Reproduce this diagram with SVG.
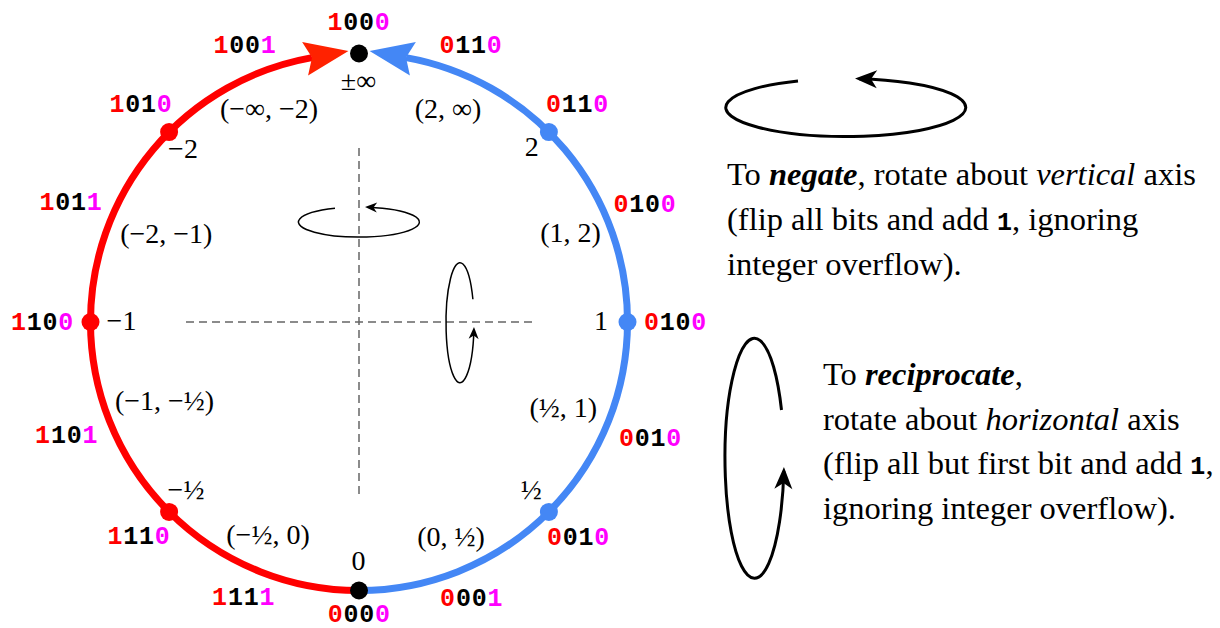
<svg xmlns="http://www.w3.org/2000/svg" width="1220" height="628" viewBox="0 0 1220 628">
<style>
.bits{font-family:"Liberation Mono","DejaVu Sans Mono",monospace;font-weight:bold;font-size:25px;letter-spacing:0.8px;text-anchor:middle;fill:#000}
.r{fill:#ff0000}
.m{fill:#ff00ff}
.lab{font-family:"Liberation Serif","Times New Roman",serif;font-size:28px;text-anchor:middle;fill:#000}
.desc{font-family:"Liberation Serif","Times New Roman",serif;font-size:32.5px;fill:#000}
.bi{font-weight:bold;font-style:italic}
.it{font-style:italic}
.mono{font-family:"Liberation Mono","DejaVu Sans Mono",monospace;font-weight:bold;font-size:25px}
.axis{stroke:#666;stroke-width:1.5;stroke-dasharray:8 5;fill:none}
.rot{fill:none;stroke:#000}
</style>
<defs>
<marker id="arrRed" markerUnits="userSpaceOnUse" viewBox="-10 -20 50 40" refX="0" refY="0" markerWidth="50" markerHeight="40" orient="auto" overflow="visible">
<path d="M37 0 L-7 -17 L0 0 L-7 17 Z" fill="#ff2200"/>
</marker>
<marker id="arrBlue" markerUnits="userSpaceOnUse" viewBox="-10 -20 50 40" refX="0" refY="0" markerWidth="50" markerHeight="40" orient="auto" overflow="visible">
<path d="M37 0 L-7 -17 L0 0 L-7 17 Z" fill="#4487f5"/>
</marker>
<marker id="arrSmall" markerUnits="userSpaceOnUse" viewBox="-12 -6 16 12" refX="0" refY="0" markerWidth="16" markerHeight="12" orient="auto" overflow="visible">
<path d="M3 0 L-9 -5 L-5.5 0 L-9 5 Z" fill="#000"/>
</marker>
<marker id="arrBig" markerUnits="userSpaceOnUse" viewBox="-20 -10 26 20" refX="0" refY="0" markerWidth="26" markerHeight="20" orient="auto" overflow="visible">
<path d="M4 0 L-18 -9 L-12 0 L-18 9 Z" fill="#000"/>
</marker>
</defs>

<g id="axes">
<line class="axis" x1="359" y1="148" x2="359" y2="495"/>
<line class="axis" x1="186" y1="322" x2="532" y2="322"/>
</g>

<g id="connectors">
<path d="M359 590.5 A268.5 268.5 0 0 1 90.5 322 A268.5 268.5 0 0 1 312 57.6" fill="none" stroke="#ff0000" stroke-width="7" marker-end="url(#arrRed)"/>
<path d="M359 590.5 A268.5 268.5 0 0 0 627.5 322 A268.5 268.5 0 0 0 406 57.6" fill="none" stroke="#4487f5" stroke-width="7" marker-end="url(#arrBlue)"/>
<path class="rot" stroke-width="1.5" d="M335 208.25 A60.5 15 0 1 0 368 207.2" marker-end="url(#arrSmall)"/>
<path class="rot" stroke-width="1.5" d="M472.9 299.3 A14 60 0 1 0 473.9 330" marker-end="url(#arrSmall)"/>
<path class="rot" stroke-width="3" d="M798 80.9 A120 29 0 1 0 859 78.68" marker-end="url(#arrBig)"/>
<path class="rot" stroke-width="3" d="M781.5 410 A29.5 120 0 1 0 783.83 471" marker-end="url(#arrBig)"/>
</g>

<g id="node-inf">
<circle cx="359" cy="53.5" r="9" fill="#000"/>
<text class="bits" x="359" y="30"><tspan class="r">1</tspan>00<tspan class="m">0</tspan></text>
<text class="lab" x="358.5" y="90">±∞</text>
</g>
<g id="node-m2">
<circle cx="169.1" cy="132.1" r="9" fill="#ff0000"/>
<text class="bits" x="141" y="112"><tspan class="r">1</tspan>01<tspan class="m">0</tspan></text>
<text class="lab" x="183" y="158">−2</text>
</g>
<g id="node-m1">
<circle cx="90.5" cy="322" r="9" fill="#ff0000"/>
<text class="bits" x="42.5" y="330"><tspan class="r">1</tspan>10<tspan class="m">0</tspan></text>
<text class="lab" x="121.5" y="330">−1</text>
</g>
<g id="node-mhalf">
<circle cx="169.1" cy="511.9" r="9" fill="#ff0000"/>
<text class="bits" x="139" y="544"><tspan class="r">1</tspan>11<tspan class="m">0</tspan></text>
<text class="lab" x="186" y="499">−½</text>
</g>
<g id="node-0">
<circle cx="359" cy="590.5" r="9" fill="#000"/>
<text class="bits" x="359.3" y="622"><tspan class="r">0</tspan>00<tspan class="m">0</tspan></text>
<text class="lab" x="358.5" y="570">0</text>
</g>
<g id="node-half">
<circle cx="548.9" cy="511.9" r="9" fill="#4487f5"/>
<text class="bits" x="578.5" y="545"><tspan class="r">0</tspan>01<tspan class="m">0</tspan></text>
<text class="lab" x="531.2" y="499">½</text>
</g>
<g id="node-1">
<circle cx="627.5" cy="322" r="9" fill="#4487f5"/>
<text class="bits" x="675.5" y="330"><tspan class="r">0</tspan>10<tspan class="m">0</tspan></text>
<text class="lab" x="601" y="330">1</text>
</g>
<g id="node-2">
<circle cx="548.9" cy="132.1" r="9" fill="#4487f5"/>
<text class="bits" x="577.5" y="112"><tspan class="r">0</tspan>11<tspan class="m">0</tspan></text>
<text class="lab" x="531.7" y="156">2</text>
</g>

<g id="interval-minf-m2">
<text class="bits" x="245" y="53"><tspan class="r">1</tspan>00<tspan class="m">1</tspan></text>
<text class="lab" x="269" y="118">(−∞, −2)</text>
</g>
<g id="interval-m2-m1">
<text class="bits" x="71" y="210"><tspan class="r">1</tspan>01<tspan class="m">1</tspan></text>
<text class="lab" x="166.3" y="243">(−2, −1)</text>
</g>
<g id="interval-m1-mhalf">
<text class="bits" x="66.7" y="443"><tspan class="r">1</tspan>10<tspan class="m">1</tspan></text>
<text class="lab" x="164.5" y="410">(−1, −½)</text>
</g>
<g id="interval-mhalf-0">
<text class="bits" x="243.7" y="605"><tspan class="r">1</tspan>11<tspan class="m">1</tspan></text>
<text class="lab" x="268" y="544">(−½, 0)</text>
</g>
<g id="interval-0-half">
<text class="bits" x="471.7" y="606"><tspan class="r">0</tspan>00<tspan class="m">1</tspan></text>
<text class="lab" x="451" y="546">(0, ½)</text>
</g>
<g id="interval-half-1">
<text class="bits" x="650.5" y="446"><tspan class="r">0</tspan>01<tspan class="m">0</tspan></text>
<text class="lab" x="563.3" y="417">(½, 1)</text>
</g>
<g id="interval-1-2">
<text class="bits" x="645" y="212"><tspan class="r">0</tspan>10<tspan class="m">0</tspan></text>
<text class="lab" x="570.5" y="242">(1, 2)</text>
</g>
<g id="interval-2-inf">
<text class="bits" x="471" y="53"><tspan class="r">0</tspan>11<tspan class="m">0</tspan></text>
<text class="lab" x="448" y="118">(2, ∞)</text>
</g>

<g id="negate-note">
<text class="desc" x="727" y="185">To <tspan class="bi">negate</tspan>, rotate about <tspan class="it">vertical</tspan> axis</text>
<text class="desc" x="727" y="230">(flip all bits and add <tspan class="mono">1</tspan>, ignoring</text>
<text class="desc" x="727" y="275">integer overflow).</text>
</g>
<g id="reciprocate-note">
<text class="desc" x="823" y="385">To <tspan class="bi">reciprocate</tspan>,</text>
<text class="desc" x="823" y="429.5">rotate about <tspan class="it">horizontal</tspan> axis</text>
<text class="desc" x="823" y="474">(flip all but first bit and add <tspan class="mono">1</tspan>,</text>
<text class="desc" x="823" y="518.5">ignoring integer overflow).</text>
</g>
</svg>
